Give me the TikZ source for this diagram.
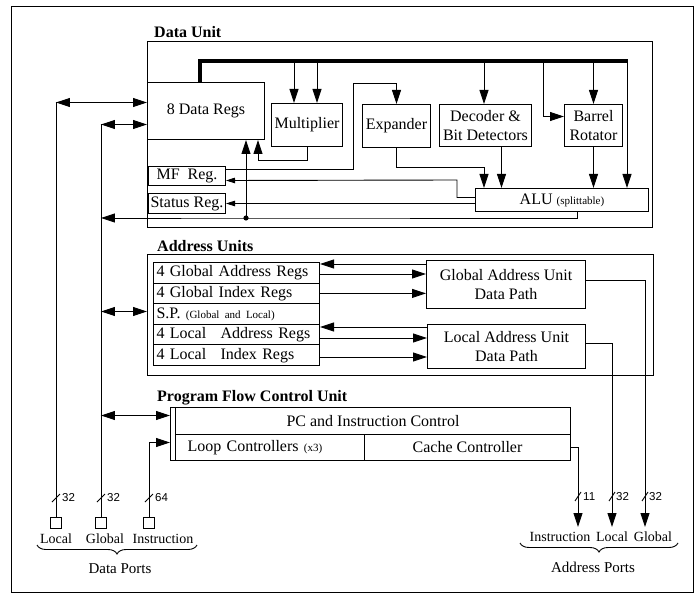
\documentclass[tikz,border=0pt]{standalone}
\usepackage{fontspec}
\setmainfont{Liberation Serif}
\newfontfamily\numfont{Liberation Sans}
\usetikzlibrary{arrows.meta,decorations.pathreplacing,calc}
\newcommand{\smtxt}[1]{{\fontsize{11}{13}\selectfont #1}}
\begin{document}
\begin{tikzpicture}[x=1pt,y=-1pt,
  box/.style={draw,line width=1pt,inner sep=0pt,anchor=north west,font=\fontsize{16}{19}\selectfont,align=center},
  row/.style={box,minimum width=166pt,minimum height=20.6pt,text width=160pt,align=left,inner xsep=3pt},
  port/.style={draw,line width=0.9pt,inner sep=0pt,anchor=north west,minimum width=11pt,minimum height=11pt},
  ln/.style={line width=0.9pt},
  arr/.style={ln,-{Triangle[length=14pt,width=9pt]}},
  arrs/.style={ln,-{Triangle[length=9pt,width=5.5pt]}},
  barr/.style={ln,{Triangle[length=14pt,width=9pt]}-{Triangle[length=14pt,width=9pt]}},
  bus/.style={line width=4.5pt,line join=miter},
  ttl/.style={font=\fontsize{16}{19}\selectfont\bfseries,anchor=base west,inner sep=0pt},
  plab/.style={font=\fontsize{14}{16}\selectfont,inner sep=0pt},
  num/.style={font=\numfont\fontsize{11.5}{13}\selectfont,anchor=west,inner sep=0pt},
  brc/.style={ln,decorate,decoration={brace,mirror,amplitude=9pt}}
]
\useasboundingbox (0,0) rectangle (695,601);
\node[draw,line width=0.8pt,inner sep=0pt,anchor=north west,minimum width=682pt,minimum height=586pt] (frame) at (11,6) {};

% ---------- Data Unit ----------
\node[ttl] (dutitle) at (154,38) {Data Unit};
\node[box,minimum width=505pt,minimum height=186pt] (du) at (147,41) {};
\node[box,minimum width=117pt,minimum height=57pt] (dregs) at (147,82) {8 Data Regs};
\node[box,minimum width=71pt,minimum height=43pt] (mult) at (271,103) {Multiplier};
\node[box,minimum width=68pt,minimum height=43pt] (exp) at (362,104) {Expander};
\node[box,minimum width=92pt,minimum height=42pt] (dec) at (439,104) {Decoder \&\\Bit Detectors};
\node[box,minimum width=58pt,minimum height=42pt] (barrel) at (564,104) {Barrel\\Rotator};
\node[box,minimum width=173pt,minimum height=23pt] (alu) at (475,188) {ALU \smtxt{(splittable)}};
\node[box,minimum width=77pt,minimum height=19pt] (mf) at (148,166) {MF\hspace{8pt}Reg.};
\node[box,minimum width=77pt,minimum height=20pt] (status) at (148,193) {Status Reg.};

% ---------- Address Units ----------
\node[ttl] (autitle) at (157,252) {Address Units};
\node[box,minimum width=506pt,minimum height=121pt] (au) at (147,254) {};
\node[row] (r1) at (153,262) {4 Global Address Regs};
\node[row] (r2) at (153,282.6) {4 Global Index Regs};
\node[row] (r3) at (153,303.2) {S.P. \smtxt{(Global and Local)}};
\node[row] (r4) at (153,323.8) {\makebox[64pt][l]{4 Local}Address Regs};
\node[row] (r5) at (153,344.4) {\makebox[64pt][l]{4 Local}Index Regs};
\node[box,minimum width=159pt,minimum height=48pt] (gau) at (426,260) {Global Address Unit\\Data Path};
\node[box,minimum width=158pt,minimum height=44pt] (lau) at (427,324) {Local Address Unit\\Data Path};

% ---------- Program Flow Control Unit ----------
\node[ttl] (pftitle) at (157,401) {Program Flow Control Unit};
\node[box,minimum width=400pt,minimum height=53pt] (pfc) at (170,407) {};
\draw[line width=1pt] ([xshift=5pt]pfc.north west) -- ([xshift=5pt]pfc.south west);
\node[box,minimum width=395pt,minimum height=27pt] (pc) at (175,407) {PC and Instruction Control};
\node[box,minimum width=189pt,minimum height=26pt,text width=165pt,align=left,inner xsep=12pt] (loop) at (175,434) {Loop Controllers \smtxt{(x3)}};
\node[box,minimum width=206pt,minimum height=26pt] (cache) at (364,434) {Cache Controller};

% ---------- Data ports ----------
\node[port] (lp) at (50,517) {};
\node[port] (gp) at (95,517) {};
\node[port] (ip) at (143,517) {};
\node[plab] (lpl) at (56,539) {Local};
\node[plab] (gpl) at (105,539) {Global};
\node[plab] (ipl) at (163,539) {Instruction};
\draw[brc] (37,545) -- (197,545);
\node[plab,font=\fontsize{15}{17}\selectfont] (dpl) at (120,569) {Data Ports};

% ---------- Address ports ----------
\coordinate (ei) at (578,527);
\coordinate (el) at (612,527);
\coordinate (eg) at (645,527);
\node[plab] (ail) at (560,537) {Instruction};
\node[plab] (all) at (612,537) {Local};
\node[plab] (agl) at (653,537) {Global};
\draw[brc] (520,543) -- (678,543);
\node[plab,font=\fontsize{15}{17}\selectfont] (apl) at (593,567) {Address Ports};

% ---------- Bus ----------
\coordinate (busL) at (200,61);
\coordinate (busR) at (627,61);
\coordinate (b1) at (294,61);
\coordinate (b2) at (317,61);
\coordinate (b3) at (484,61);
\coordinate (b4) at (543,61);
\draw[bus] (dregs.north -| busL) -- (busL) -- ([xshift=1pt]busR);
\draw[arr] (b1) -- (b1 |- mult.north);
\draw[arr] (b2) -- (b2 |- mult.north);
\draw[arr] (b3) -- (b3 |- dec.north);
\draw[arr] (barrel.north |- busL) -- (barrel.north);
\draw[arr] (b4) |- ([yshift=9pt]barrel.west);
\draw[arr] (busR) -- (busR |- alu.north);

% ---------- Data unit connectors ----------
\coordinate (mo) at (258,160);
\draw[arr] (mult.south) |- (mo) -- (mo |- dregs.south);
\coordinate (aluo) at ([xshift=15.5pt]alu.south);
\coordinate (dot) at (246,218);
\draw[arr] (aluo) |- (dot) -- (gp.north |- dot);
\fill (dot) circle (2.6pt);
\draw[arr] (dot) -- (dot |- dregs.south);
\coordinate (e1) at (353,83);
\draw[arr] ([yshift=6.5pt]mf.east) -| (e1) -| (exp.north);
\coordinate (a1) at (457,180);
\draw[arrs] ([yshift=2.5pt]alu.west) -| (a1) -- ([yshift=-4.5pt]mf.east);
\draw[arrs] (alu.west |- status.east) -- (status.east);
\coordinate (x1) at (484,167);
\draw[arr] (exp.south) |- (x1) -- (x1 |- alu.north);
\coordinate (d1) at ([xshift=16pt]dec.south);
\draw[arr] (d1) -- (d1 |- alu.north);
\draw[arr] (barrel.south) -- (barrel.south |- alu.north);

% ---------- Port lines ----------
\coordinate (dr1) at ([yshift=8.5pt]dregs.west);
\coordinate (dr2) at ([yshift=-13.5pt]dregs.west);
\draw[ln] (lp.north) -- (lp.north |- dr1);
\draw[barr] (lp.north |- dr1) -- (dr1);
\draw[ln] (gp.north) -- (gp.north |- dr2);
\draw[barr] (gp.north |- dr2) -- (dr2);
\coordinate (au1) at ([yshift=3.5pt]au.west);
\draw[barr] (gp.north |- au1) -- (au1);
\coordinate (pf1) at ([yshift=18.5pt]pfc.west);
\draw[barr] (gp.north |- pf1) -- (pf1);
\draw[arr] (ip.north) |- ([yshift=-8.5pt]pfc.west);

% slashes on data port lines
\draw[ln] ([shift={(-4,-15)}]lp.north) -- ([shift={(4,-23)}]lp.north);
\node[num] at ([shift={(6,-19)}]lp.north) {32};
\draw[ln] ([shift={(-4,-15)}]gp.north) -- ([shift={(4,-23)}]gp.north);
\node[num] at ([shift={(6,-19)}]gp.north) {32};
\draw[ln] ([shift={(-4,-15)}]ip.north) -- ([shift={(4,-23)}]ip.north);
\node[num] at ([shift={(6,-19)}]ip.north) {64};

% ---------- Address unit connectors ----------
\coordinate (g1) at ([yshift=-4pt]gau.north west);
\draw[arr] (g1) -- (r1.east |- g1);
\coordinate (g2) at (319,274);
\draw[arr] (g2) -- (g2 -| gau.west);
\draw[arr] (r2.east) -- (r2.east -| gau.west);
\coordinate (l1) at ([yshift=-3pt]lau.north west);
\draw[arr] (l1) -- (r4.east |- l1);
\coordinate (l2) at (319,338);
\draw[arr] (l2) -- (l2 -| lau.west);
\coordinate (l3) at (319,357);
\draw[arr] (l3) -- (l3 -| lau.west);

\draw[arr] ([yshift=4pt]gau.east) -| (eg);
\draw[arr] ([yshift=3pt]lau.east) -| (el);
\draw[arr] ([yshift=-13.5pt]pfc.east) -| (ei);

% slashes on address port lines
\draw[ln] ([shift={(-3,-26)}]ei) -- ([shift={(3,-35)}]ei);
\node[num] at ([shift={(5,-30)}]ei) {11};
\draw[ln] ([shift={(-3,-26)}]el) -- ([shift={(3,-35)}]el);
\node[num] at ([shift={(4,-30)}]el) {32};
\draw[ln] ([shift={(-3,-26)}]eg) -- ([shift={(3,-35)}]eg);
\node[num] at ([shift={(4,-30)}]eg) {32};
\end{tikzpicture}
\end{document}
